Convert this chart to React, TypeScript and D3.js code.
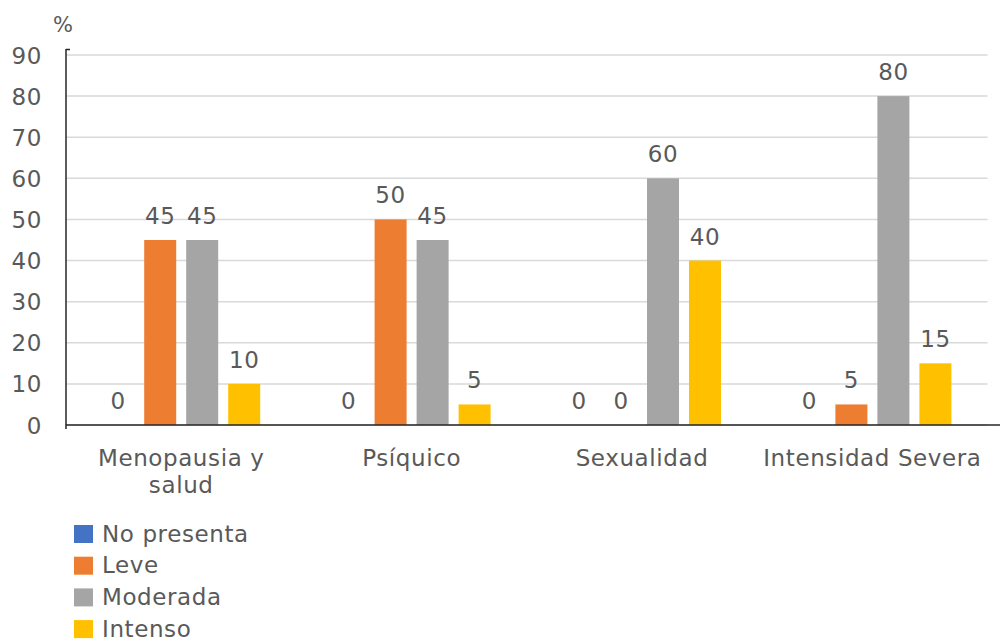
import React from "react";
import * as d3 from "d3";

const categories = ["Menopausia y\nsalud", "Psíquico", "Sexualidad", "Intensidad Severa"];
const seriesNames = ["No presenta", "Leve", "Moderada", "Intenso"];
const noPresenta = [0, 0, 0, 0];
const leve = [45, 50, 0, 5];
const moderada = [45, 45, 60, 80];
const intenso = [10, 5, 40, 15];
const seriesColors = ["#4472C4", "#ED7D31", "#A5A5A5", "#FFC000"];
const yTicks = [0, 10, 20, 30, 40, 50, 60, 70, 80, 90];

const seriesValues = [noPresenta, leve, moderada, intenso];

const FONT = "'DejaVu Sans', Verdana, sans-serif";
const TEXT = "#595959";
const FS = 23;
const LS = 0.6;

export default function App() {
  const left = 66;
  const right = 987.6;
  const top = 55;
  const bottom = 425;

  const x0 = d3.scaleBand<string>().domain(categories).range([left, right]).padding(0);
  const bw = x0.bandwidth();
  const inner = 168;
  const x1 = d3
    .scaleBand<string>()
    .domain(seriesNames)
    .range([(bw - inner) / 2, (bw + inner) / 2])
    .paddingInner(0.238)
    .paddingOuter(0.119);
  const y = d3.scaleLinear().domain([0, 90]).range([bottom, top]);

  return (
    <svg width={1000} height={642} style={{ display: "block", position: "absolute", left: 0, top: 0 }}>
      <rect x={0} y={0} width={1000} height={642} fill="#ffffff" />
      {yTicks.map((t) => (
        <line key={"g" + t} x1={left} x2={right} y1={y(t)} y2={y(t)} stroke="#d9d9d9" strokeWidth={1.5} />
      ))}
      {yTicks.map((t) => (
        <text key={"t" + t} x={42} y={y(t) + 8.5} textAnchor="end" fontFamily={FONT} fontSize={FS} letterSpacing={LS} fill={TEXT}>
          {t}
        </text>
      ))}
      <text x={63} y={32} textAnchor="middle" fontFamily={FONT} fontSize={21} fill={TEXT}>
        %
      </text>
      {categories.map((c, ci) => (
        <g key={"c" + ci} transform={`translate(${x0(c)},0)`}>
          {seriesNames.map((s, si) => {
            const v = seriesValues[si][ci];
            const bx = x1(s) as number;
            return (
              <g key={s}>
                <rect x={bx} y={y(v)} width={x1.bandwidth()} height={bottom - y(v)} fill={seriesColors[si]} />
                <text
                  x={bx + x1.bandwidth() / 2}
                  y={y(v) - 16}
                  textAnchor="middle"
                  fontFamily={FONT}
                  fontSize={FS}
                  letterSpacing={LS}
                  fill={TEXT}
                >
                  {v}
                </text>
              </g>
            );
          })}
        </g>
      ))}
      <line x1={left} x2={left} y1={49} y2={bottom} stroke="#262626" strokeWidth={1.5} />
      <line x1={left} x2={left + 4} y1={49.5} y2={49.5} stroke="#262626" strokeWidth={1.5} />
      <line x1={left} x2={1000} y1={bottom} y2={bottom} stroke="#262626" strokeWidth={1.5} />
      <line x1={left} x2={left} y1={bottom} y2={bottom + 4} stroke="#262626" strokeWidth={1.5} />
      {categories.map((c, ci) => (
        <text
          key={"l" + ci}
          x={(x0(c) as number) + bw / 2}
          y={466}
          textAnchor="middle"
          fontFamily={FONT}
          fontSize={FS}
          letterSpacing={LS}
          fill={TEXT}
        >
          {c.split("\n").map((line, li) => (
            <tspan key={li} x={(x0(c) as number) + bw / 2} dy={li === 0 ? 0 : 27}>
              {line}
            </tspan>
          ))}
        </text>
      ))}
      {seriesNames.map((s, si) => (
        <g key={"lg" + s} transform={`translate(0,${si * 31.7})`}>
          <rect x={74} y={525} width={19} height={18} fill={seriesColors[si]} />
          <text x={102} y={541.5} fontFamily={FONT} fontSize={FS} letterSpacing={LS} fill={TEXT}>
            {s}
          </text>
        </g>
      ))}
    </svg>
  );
}
